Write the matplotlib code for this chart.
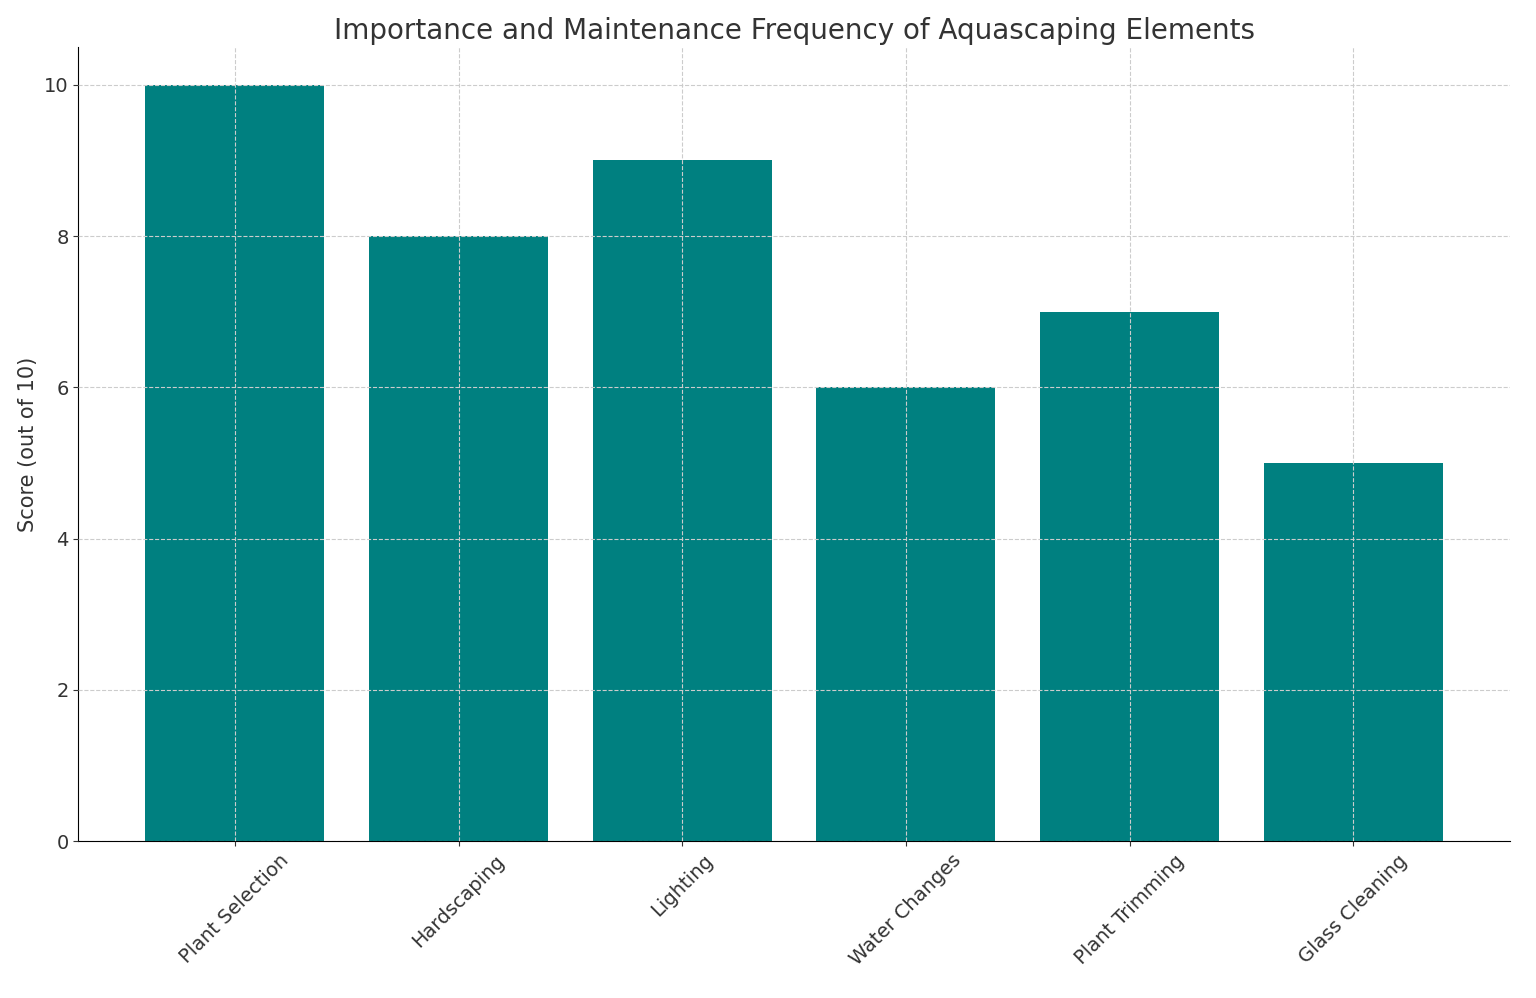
import matplotlib.pyplot as plt

categories = ["Plant Selection", "Hardscaping", "Lighting", "Water Changes",
              "Plant Trimming", "Glass Cleaning"]
scores = [10, 8, 9, 6, 7, 5]

fig, ax = plt.subplots(figsize=(15.36, 9.98), dpi=100)
fig.subplots_adjust(left=0.051, right=0.983, top=0.953, bottom=0.157)

ax.bar(categories, scores, color="#008080", width=0.8)
ax.set_ylim(0, 10.5)
ax.set_xlim(-0.7, 5.7)
ax.set_title("Importance and Maintenance Frequency of Aquascaping Elements",
             fontsize=20, color="#333333")
ax.set_ylabel("Score (out of 10)", fontsize=15, color="#333333")
ax.tick_params(axis="both", labelsize=14, colors="#333333")
plt.setp(ax.get_xticklabels(), rotation=45)
ax.grid(True, linestyle="--", color="#cccccc", linewidth=0.8)
ax.set_axisbelow(False)
for s in ("top", "right"):
    ax.spines[s].set_visible(False)

fig.savefig("out.png", facecolor="white")
